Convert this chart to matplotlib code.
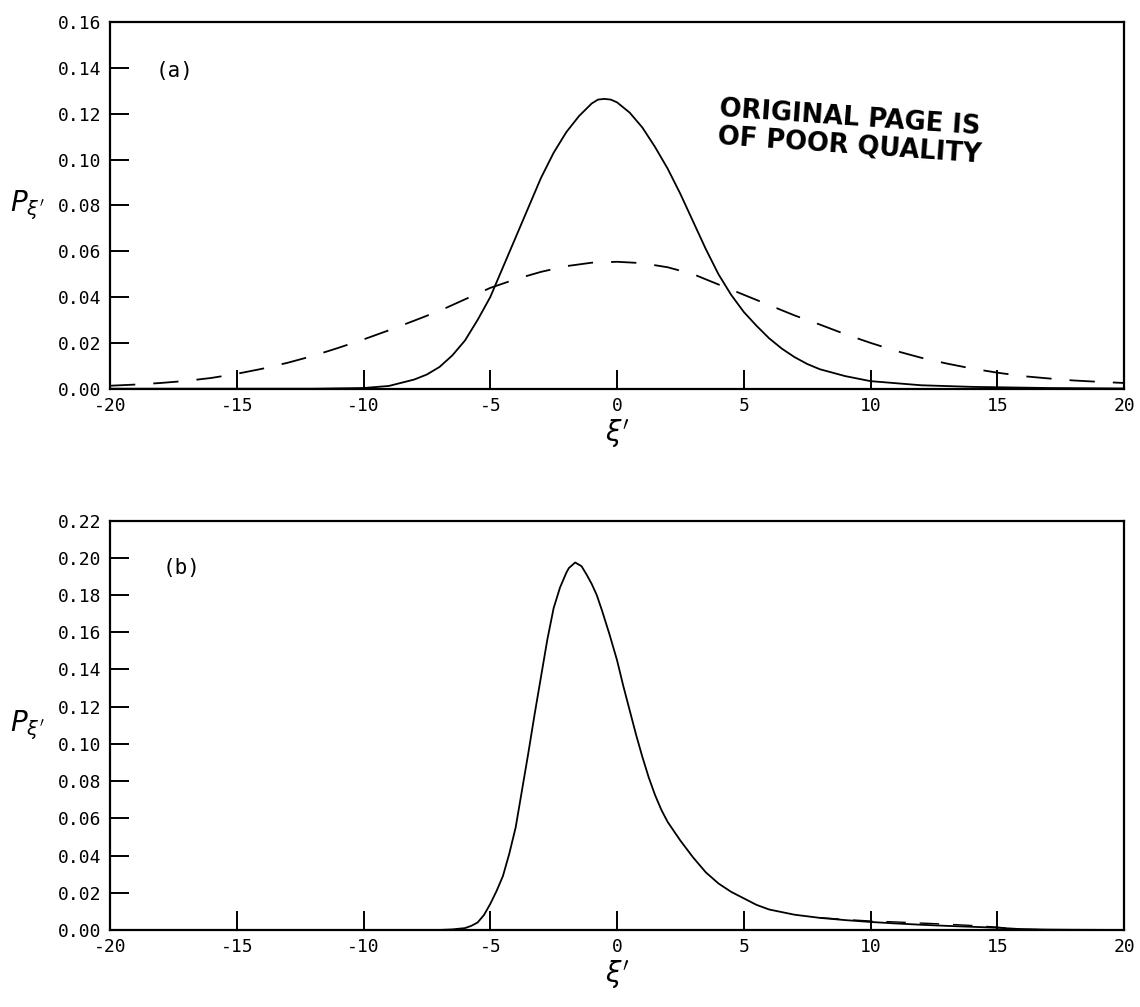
import matplotlib
matplotlib.use("Agg")
import matplotlib.pyplot as plt

plt.rcParams['axes.unicode_minus'] = False
plt.rcParams['font.family'] = ['DejaVu Sans Mono', 'DejaVu Sans']

# (a) solid curve
xa_solid = [-20, -12, -10, -9, -8, -7.5, -7, -6.5, -6, -5.5, -5, -4.5, -4, -3.5, -3,
            -2.5, -2, -1.5, -1, -0.75, -0.5, -0.25, 0, 0.5, 1, 1.5, 2, 2.5, 3, 3.5,
            4, 4.5, 5, 5.5, 6, 6.5, 7, 7.5, 8, 9, 10, 12, 14, 17, 20]
ya_solid = [0.0, 0.0, 0.0003, 0.0012, 0.004, 0.0062, 0.0095, 0.0145, 0.021, 0.030,
            0.040, 0.053, 0.066, 0.079, 0.092, 0.103, 0.112, 0.119, 0.1245, 0.1262,
            0.1265, 0.1262, 0.125, 0.1205, 0.114, 0.1055, 0.096, 0.085, 0.073,
            0.061, 0.050, 0.041, 0.0335, 0.0275, 0.022, 0.0175, 0.0138, 0.0108,
            0.0085, 0.0055, 0.0033, 0.0015, 0.0008, 0.0003, 0.0001]

# (a) dashed curve
xa_dash = list(range(-20, 21))
ya_dash = [0.0013, 0.0018, 0.0025, 0.0034, 0.0047, 0.0065, 0.0087, 0.0113, 0.0143,
           0.0178, 0.0215, 0.0255, 0.0297, 0.0340, 0.0390, 0.0440, 0.0478, 0.0510,
           0.0535, 0.0550, 0.0554, 0.0548, 0.0530, 0.0500, 0.0455, 0.0410, 0.0365,
           0.0320, 0.0280, 0.0238, 0.0200, 0.0165, 0.0135, 0.0110, 0.0088, 0.0070,
           0.0055, 0.0045, 0.0036, 0.0030, 0.0025]

# (b) solid curve
xb_solid = [-20, -7, -6.5, -6, -5.75, -5.5, -5.25, -5, -4.75, -4.5, -4.25, -4, -3.75,
            -3.5, -3.25, -3, -2.75, -2.5, -2.25, -2, -1.9, -1.65, -1.4, -1.2, -1.0,
            -0.8, -0.6, -0.3, 0, 0.25, 0.5, 0.75, 1, 1.25, 1.5, 1.75, 2, 2.5, 3,
            3.5, 4, 4.5, 5, 5.5, 6, 7, 8, 9, 10, 11, 12, 13, 14, 15, 16, 17, 18, 20]
yb_solid = [0.0, 0.0, 0.0003, 0.001, 0.0022, 0.004, 0.008, 0.014, 0.021, 0.029,
            0.041, 0.055, 0.075, 0.095, 0.116, 0.136, 0.156, 0.173, 0.184, 0.192,
            0.1945, 0.1975, 0.1955, 0.191, 0.186, 0.180, 0.172, 0.159, 0.145,
            0.131, 0.118, 0.105, 0.093, 0.082, 0.0725, 0.0645, 0.058, 0.048, 0.039,
            0.031, 0.025, 0.0205, 0.017, 0.0135, 0.011, 0.0082, 0.0065, 0.0053,
            0.0043, 0.0035, 0.0028, 0.0022, 0.0017, 0.0012, 0.0004, 0.0002,
            0.0001, 0.0]

# (b) dashed curve (only separates from the solid one in the tail)
xb_dash = [8, 9, 10, 11, 12, 13, 14, 15, 15.5, 16, 17]
yb_dash = [0.0066, 0.0056, 0.0048, 0.0043, 0.0037, 0.0031, 0.0024, 0.0015, 0.0008,
           0.0004, 0.0001]

xticks = [-20, -15, -10, -5, 0, 5, 10, 15, 20]
yticks_a = [0.00, 0.02, 0.04, 0.06, 0.08, 0.10, 0.12, 0.14, 0.16]
yticks_b = [0.00, 0.02, 0.04, 0.06, 0.08, 0.10, 0.12, 0.14, 0.16, 0.18, 0.20, 0.22]

fig = plt.figure(figsize=(11.4, 10.07), dpi=100)
ax1 = fig.add_axes([0.0965, 0.614, 0.8895, 0.364])
ax2 = fig.add_axes([0.0965, 0.0765, 0.8895, 0.4065])

dash = (0, (14, 10))

ax1.plot(xa_solid, ya_solid, color='black', lw=1.3)
ax1.plot(xa_dash, ya_dash, color='black', lw=1.3, linestyle=dash)
ax2.plot(xb_solid, yb_solid, color='black', lw=1.3)
ax2.plot(xb_dash, yb_dash, color='black', lw=1.0, linestyle=dash)

for ax, yt in [(ax1, yticks_a), (ax2, yticks_b)]:
    ax.set_xlim(-20, 20)
    ax.set_ylim(yt[0], yt[-1])
    ax.set_xticks(xticks)
    ax.set_yticks(yt)
    ax.set_yticklabels([f"{v:.2f}" for v in yt])
    ax.tick_params(direction='in', length=14, width=1.4, labelsize=13, pad=6)
    for s in ax.spines.values():
        s.set_linewidth(1.6)
    ax.set_xlabel(r"$\xi'$", fontsize=20, labelpad=2)
    ax.set_ylabel(r"$P_{\xi'}$", fontsize=20, rotation=0, labelpad=22, va='center')

ax1.text(0.045, 0.85, "(a)", transform=ax1.transAxes, fontsize=15)
ax2.text(0.052, 0.87, "(b)", transform=ax2.transAxes, fontsize=15)

ax1.text(0.598, 0.70, "ORIGINAL PAGE IS\nOF POOR QUALITY", transform=ax1.transAxes,
         fontsize=18.5, fontweight='bold', family='DejaVu Sans', rotation=-4,
         ha='left', va='center', linespacing=1.1)

fig.savefig("out.png", dpi=100)
